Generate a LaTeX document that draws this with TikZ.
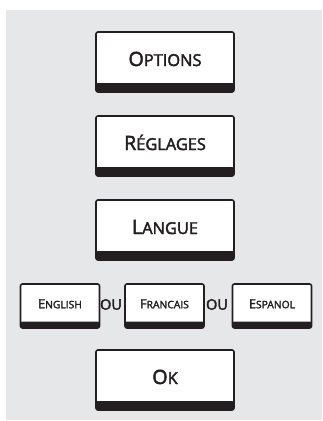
\documentclass[tikz,border=0pt]{standalone}
\usepackage{fontspec}
\setmainfont{Open Sans}
\newfontfamily\btnfont{Open Sans}[BoldFont={Open Sans}, BoldFeatures={FakeBold=2.4}]
\definecolor{panelgray}{HTML}{E6E7E8}
\definecolor{inkblack}{HTML}{231F20}
% fake small caps: big first letter, smaller rest
\newcommand{\bigsc}[2]{{\fontsize{19.7}{22}\selectfont #1}{\fontsize{16.4}{19}\selectfont #2}}
\newcommand{\smallsc}[2]{{\fontsize{12.6}{15}\selectfont #1}{\fontsize{10.3}{12}\selectfont #2}}
\begin{document}
\begin{tikzpicture}[x=1pt, y=-1pt,
  menubtn/.style={rectangle, rounded corners=2pt, draw=inkblack, line width=1.6pt, fill=white,
    text=inkblack, font=\btnfont\bfseries, minimum width=138pt, minimum height=60pt, inner sep=0pt,
    text height=14pt, text depth=6pt,
    path picture={\fill[inkblack] (path picture bounding box.south west) rectangle ([yshift=9pt]path picture bounding box.south east);}},
  langbtn/.style={menubtn, minimum width=79pt, minimum height=44pt,
    text height=9pt, text depth=4.5pt,
    path picture={\fill[inkblack] (path picture bounding box.south west) rectangle ([yshift=6.5pt]path picture bounding box.south east);}},
  orword/.style={text=inkblack, font=\btnfont\bfseries\fontsize{14.5}{16}\selectfont, inner sep=0pt}]

  \useasboundingbox (0, 0) rectangle (322, 421);
  \fill[panelgray] (6, 10) rectangle (322, 420);

  \node[menubtn] at (165, 62) (options) {\bigsc{O}{PTIONS}};
  \node[menubtn] at (165, 146) (reglages) {\bigsc{R}{ÉGLAGES}};
  \node[menubtn] at (165, 230) (langue) {\bigsc{L}{ANGUE}};

  \node[langbtn] at (60, 306) (english) {\smallsc{E}{NGLISH}};
  \node[orword] at (111, 304.5) (ou1) {OU};
  \node[langbtn] at (164.5, 306) (francais) {\smallsc{F}{RANCAIS}};
  \node[orword] at (217, 304.5) (ou2) {OU};
  \node[langbtn] at (272, 306) (espanol) {\smallsc{E}{SPANOL}};

  \node[menubtn] at (165, 380) (ok) {\bigsc{O}{K}};
\end{tikzpicture}
\end{document}
